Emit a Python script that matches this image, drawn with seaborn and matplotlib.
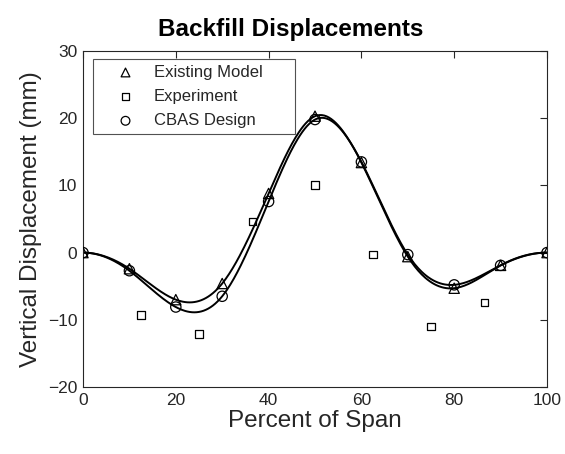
import numpy as np
import pandas as pd
import matplotlib
matplotlib.use("Agg")
import matplotlib.pyplot as plt
import seaborn as sns

# ---- data ----
span_model = [0, 10, 20, 30, 40, 50, 60, 70, 80, 90, 100]
existing_model = [0, -2.4, -7.0, -4.6, 8.8, 20.3, 13.4, -0.6, -5.3, -1.9, 0]
cbas_design = [0, -2.7, -8.1, -6.5, 7.6, 19.8, 13.5, -0.3, -4.8, -1.9, 0]
span_exp = [12.5, 25, 36.5, 50, 62.5, 75, 86.5]
experiment = [-9.3, -12.1, 4.6, 10.1, -0.3, -11.0, -7.4]

title = "Backfill Displacements"
xlabel = "Percent of Span"
ylabel = "Vertical Displacement (mm)"
xticks = [0, 20, 40, 60, 80, 100]
yticks = [-20, -10, 0, 10, 20, 30]


def clamped_spline(x, y, xs):
    """Cubic spline through (x, y) with zero end slopes."""
    x = np.asarray(x, float); y = np.asarray(y, float)
    n = len(x)
    h = np.diff(x)
    A = np.zeros((n, n)); b = np.zeros(n)
    A[0, 0] = 2 * h[0]; A[0, 1] = h[0]
    b[0] = 6 * ((y[1] - y[0]) / h[0] - 0.0)
    A[-1, -2] = h[-1]; A[-1, -1] = 2 * h[-1]
    b[-1] = 6 * (0.0 - (y[-1] - y[-2]) / h[-1])
    for i in range(1, n - 1):
        A[i, i - 1] = h[i - 1]
        A[i, i] = 2 * (h[i - 1] + h[i])
        A[i, i + 1] = h[i]
        b[i] = 6 * ((y[i + 1] - y[i]) / h[i] - (y[i] - y[i - 1]) / h[i - 1])
    M = np.linalg.solve(A, b)
    idx = np.clip(np.searchsorted(x, xs) - 1, 0, n - 2)
    x0 = x[idx]; x1 = x[idx + 1]; hh = x1 - x0
    t0 = x1 - xs; t1 = xs - x0
    return (M[idx] * t0**3 / (6 * hh) + M[idx + 1] * t1**3 / (6 * hh)
            + (y[idx] / hh - M[idx] * hh / 6) * t0
            + (y[idx + 1] / hh - M[idx + 1] * hh / 6) * t1)


xs = np.linspace(0, 100, 401)
curves = pd.DataFrame({
    "x": np.concatenate([xs, xs]),
    "y": np.concatenate([clamped_spline(span_model, existing_model, xs),
                         clamped_spline(span_model, cbas_design, xs)]),
    "series": ["Existing Model"] * len(xs) + ["CBAS Design"] * len(xs),
})

sns.set_style("white")
plt.rcParams["font.family"] = ["Liberation Sans", "DejaVu Sans"]

fig = plt.figure(figsize=(5.65, 4.54), dpi=100)
ax = fig.add_axes([83 / 565, 1 - 387 / 454, (547 - 83) / 565, (387 - 51) / 454])

sns.lineplot(data=curves, x="x", y="y", units="series", estimator=None,
             color="black", lw=1.4, ax=ax, legend=False)

mk = dict(color="none", edgecolor="black", linewidth=0.9, zorder=3)
ax.scatter(span_model, existing_model, marker="^", s=55, label="Existing Model", **mk)
ax.scatter(span_exp, experiment, marker="s", s=30, label="Experiment", **mk)
ax.scatter(span_model, cbas_design, marker="o", s=55, label="CBAS Design", **mk)

ax.set_xlim(0, 100)
ax.set_ylim(-20, 30)
ax.set_xticks(xticks)
ax.set_yticks(yticks)
ax.tick_params(direction="in", length=5, width=0.8, top=True, right=True,
               labelsize=12.5, colors="#262626", pad=4)
for lab in ax.get_xticklabels() + ax.get_yticklabels():
    lab.set_color("#262626")
for s in ax.spines.values():
    s.set_visible(True)
    s.set_color("#262626")
    s.set_linewidth(0.8)

ax.set_xlabel(xlabel, fontsize=17.5, color="#262626", labelpad=2)
ax.set_ylabel(ylabel, fontsize=17.5, color="#262626", labelpad=4)
fig.text(291 / 565, 1 - 36 / 454, title, fontsize=17.5, fontweight="bold",
         ha="center", va="baseline", color="black")

# legend box: x 93..295 px, y 59..131 px in figure
bx0 = (93 - 83) / 464
bw = (295 - 93) / 464
by1 = 1 - (59 - 51) / 336
bh = (131 - 59) / 336
leg = ax.legend(loc="upper left", bbox_to_anchor=(bx0, by1 - bh, bw, bh),
                mode="expand", frameon=True, fancybox=False, edgecolor="#262626",
                fontsize=12, handletextpad=0.1, borderpad=0.35, labelspacing=0.55,
                handlelength=3.2, borderaxespad=0, markerscale=0.85)
leg.get_frame().set_linewidth(0.8)

fig.savefig("out.png", dpi=100)
